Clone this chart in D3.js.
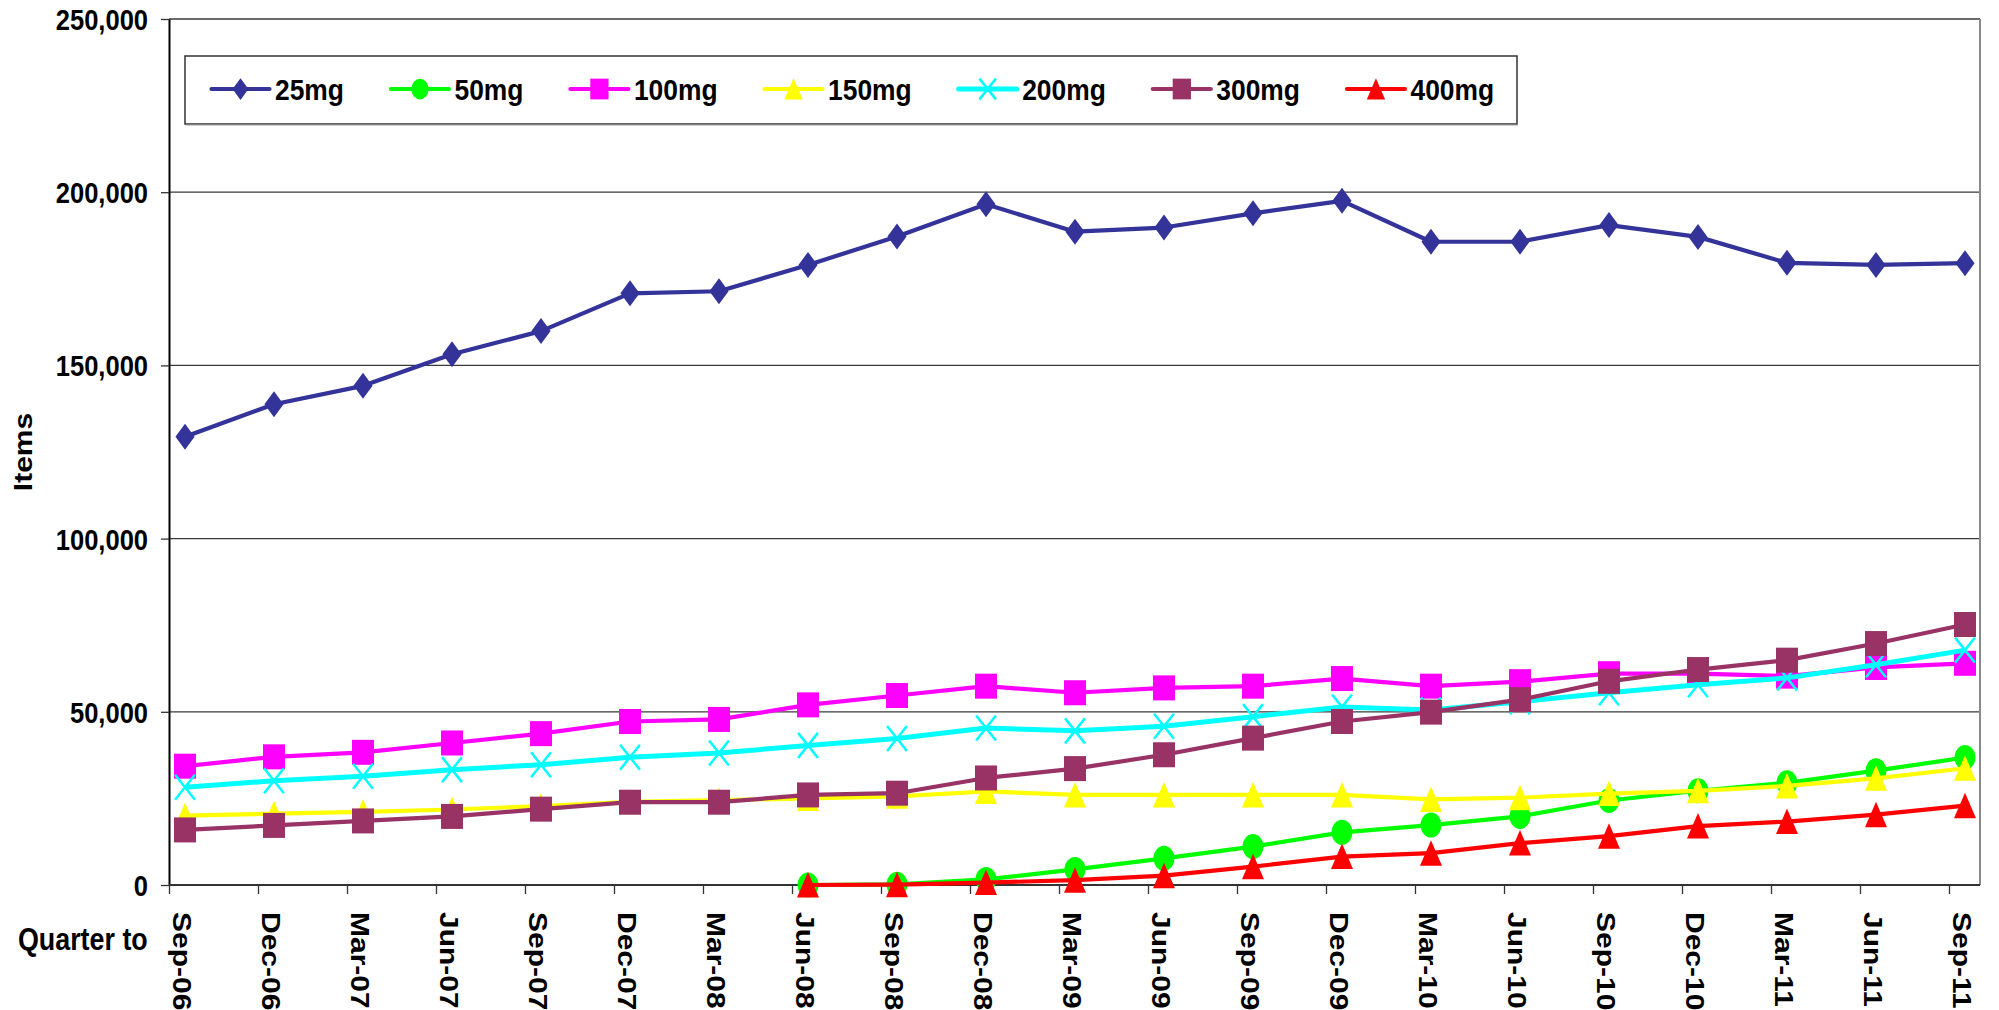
<!DOCTYPE html>
<html>
<head>
<meta charset="utf-8">
<script src="https://cdn.jsdelivr.net/npm/d3@7"></script>
<style>
  html, body { margin: 0; padding: 0; background: #fff; }
  svg { display: block; }
  text { font-family: "Liberation Sans", Arial, sans-serif; font-weight: bold; fill: #000; }
</style>
</head>
<body>
<svg id="chart" width="1999" height="1010"></svg>
<script>
// ---- data ----
const categories = ["Sep-06","Dec-06","Mar-07","Jun-07","Sep-07","Dec-07","Mar-08","Jun-08","Sep-08","Dec-08",
  "Mar-09","Jun-09","Sep-09","Dec-09","Mar-10","Jun-10","Sep-10","Dec-10","Mar-11","Jun-11","Sep-11"];
const seriesNames = ["25mg","50mg","100mg","150mg","200mg","300mg","400mg"];
const mg25  = [129400,138800,144100,153200,159900,170800,171400,179000,187200,196500,188600,189800,193900,197500,185700,185700,190500,187100,179600,179000,179500];
const mg50  = [null,null,null,null,null,null,null,0,200,1600,4500,7700,11100,15200,17300,19800,24400,27200,29500,33000,36800];
const mg100 = [34300,37000,38300,41000,43700,47200,47800,52000,54700,57400,55500,56900,57400,59600,57400,58700,61000,61000,60300,62800,64000];
const mg150 = [20000,20600,21100,21800,22800,24000,24500,25000,25600,27000,26000,26000,26000,26000,24700,25200,26400,27200,28600,30800,33700];
const mg200 = [28200,30100,31400,33300,34700,36900,38100,40300,42300,45300,44500,45800,48600,51400,50500,52900,55500,57800,59800,63600,67800];
const mg300 = [15900,17200,18500,19800,21900,23900,23900,26000,26500,30900,33600,37600,42400,47200,49900,53500,58800,62200,64900,69700,75200];
const mg400 = [null,null,null,null,null,null,null,0,100,700,1400,2700,5300,8200,9200,12100,14100,17000,18300,20300,22900];
const yTicks = [0,50000,100000,150000,200000,250000];
const yTitle = "Items";
const xTitle = "Quarter to";

const seriesValues = [mg25, mg50, mg100, mg150, mg200, mg300, mg400];
const colors = ["#333399","#00FF00","#FF00FF","#FFFF00","#00FFFF","#993366","#FF0000"];
const markers = ["diamond","circle","square","triangle","x","square","triangle"];

// ---- layout ----
const SX = 0.88;           // horizontal text squeeze seen in the reference
const plot = {left: 169, right: 1980, top: 19, bottom: 885};
const svg = d3.select("#chart");

const x = d3.scalePoint().domain(categories).range([185, 1965]);
const y = d3.scaleLinear().domain([0, 250000]).range([plot.bottom, plot.top]);

// gridlines
svg.append("g").selectAll("line").data(yTicks.filter(d => d > 0)).join("line")
  .attr("x1", plot.left).attr("x2", plot.right)
  .attr("y1", d => y(d)).attr("y2", d => y(d))
  .attr("stroke", "#3a3a3a").attr("stroke-width", 1.3);

// right border of plot area
svg.append("line").attr("x1", plot.right).attr("x2", plot.right)
  .attr("y1", plot.top).attr("y2", plot.bottom)
  .attr("stroke", "#8a8a8a").attr("stroke-width", 2);

// y axis
const yAxis = svg.append("g").attr("transform", `translate(${plot.left},0)`)
  .call(d3.axisLeft(y).tickValues(yTicks).tickSize(8).tickSizeOuter(0).tickFormat(d3.format(",")));
yAxis.select(".domain").attr("stroke", "#000").attr("stroke-width", 2);
yAxis.selectAll(".tick line").attr("stroke", "#333").attr("stroke-width", 1.3);
yAxis.selectAll(".tick text")
  .attr("x", -21 / SX).attr("dy", "0.36em")
  .attr("transform", `scale(${SX},1)`)
  .style("font-size", "29px").style("font-family", '"Liberation Sans", Arial, sans-serif')
  .style("font-weight", "bold").attr("fill", "#000");

// x axis
const xAxis = svg.append("g").attr("transform", `translate(0,${plot.bottom})`)
  .call(d3.axisBottom(x).tickSize(9).tickSizeOuter(0).tickFormat(d => d));
xAxis.select(".domain").attr("d", `M${plot.left},0H${plot.right}`).attr("stroke", "#333").attr("stroke-width", 2);
xAxis.selectAll(".tick line").attr("x1", -16).attr("x2", -16).attr("stroke", "#333").attr("stroke-width", 1.3);
xAxis.selectAll(".tick text")
  .attr("x", 0).attr("y", 0).attr("dy", "0.35em")
  .attr("text-anchor", "start")
  .attr("transform", `translate(-3,27) scale(${SX},1) rotate(90)`)
  .style("font-size", "30px").style("font-family", '"Liberation Sans", Arial, sans-serif')
  .style("font-weight", "bold").attr("fill", "#000");

// axis titles
svg.append("text").text(yTitle)
  .attr("text-anchor", "middle").attr("dy", "0.35em")
  .attr("transform", `translate(23,452) scale(${SX},1) rotate(-90)`)
  .style("font-size", "30px");
svg.append("text").text(xTitle)
  .attr("text-anchor", "start")
  .attr("transform", `translate(18,950) scale(${SX},1)`)
  .style("font-size", "30.5px");

// marker drawing
function drawMarker(sel, type, color, k) {
  const hw = 11 * k, hh = 12.5 * k;
  if (type === "diamond") {
    sel.append("path").attr("d", `M0,${-hh-0.5}L${hw*0.87},0L0,${hh+0.5}L${-hw*0.87},0Z`).attr("fill", color);
  } else if (type === "circle") {
    sel.append("ellipse").attr("rx", hw * 0.95).attr("ry", hh).attr("fill", color);
  } else if (type === "square") {
    sel.append("rect").attr("x", -hw).attr("y", -hh).attr("width", 2*hw).attr("height", 2*hh).attr("fill", color);
  } else if (type === "triangle") {
    sel.append("path").attr("d", `M0,${-hh-0.5}L${hw},${hh}L${-hw},${hh}Z`).attr("fill", color);
  } else if (type === "x") {
    sel.append("path").attr("d", `M${-hw*0.9},${-hh}L${hw*0.9},${hh}M${hw*0.9},${-hh}L${-hw*0.9},${hh}`)
      .attr("stroke", color).attr("stroke-width", 2.5).attr("fill", "none");
  }
}

// series
const line = d3.line()
  .defined(d => d.v != null)
  .x(d => x(d.c)).y(d => y(d.v));

seriesNames.forEach((name, i) => {
  const pts = categories.map((c, j) => ({c, v: seriesValues[i][j]}));
  const g = svg.append("g").attr("class", "series");
  g.append("path").datum(pts).attr("d", line)
    .attr("fill", "none").attr("stroke", colors[i])
    .attr("stroke-width", name === "200mg" ? 5 : 4.2)
    .attr("stroke-linejoin", "round");
  g.selectAll("g.m").data(pts.filter(d => d.v != null)).join("g")
    .attr("class", "m")
    .attr("transform", d => `translate(${x(d.c)},${y(d.v)})`)
    .each(function() { drawMarker(d3.select(this), markers[i], colors[i], 1); });
});

// legend
const lg = svg.append("g");
lg.append("rect").attr("x", 185).attr("y", 56).attr("width", 1332).attr("height", 68)
  .attr("fill", "#fff").attr("stroke", "#333").attr("stroke-width", 1.5);
lg.append("line").attr("x1", 186).attr("x2", 1518).attr("y1", 125).attr("y2", 125)
  .attr("stroke", "#999").attr("stroke-width", 1);
let lx = 211.5;
const ly = 89;
seriesNames.forEach((name, i) => {
  const item = lg.append("g");
  item.append("line").attr("x1", lx).attr("x2", lx + 58).attr("y1", ly).attr("y2", ly)
    .attr("stroke", colors[i]).attr("stroke-width", name === "200mg" ? 5 : 4.2).attr("stroke-linecap", "round");
  const mg = item.append("g").attr("transform", `translate(${lx + 29},${ly})`);
  drawMarker(mg, markers[i], colors[i], 0.83);
  const t = item.append("text").text(name)
    .attr("dy", "0.36em")
    .attr("transform", `translate(${lx + 63.5},${ly}) scale(${SX},1)`)
    .style("font-size", "30px");
  const w = t.node().getComputedTextLength() * SX;
  lx = lx + 63.5 + w + 47;
});
</script>
</body>
</html>
